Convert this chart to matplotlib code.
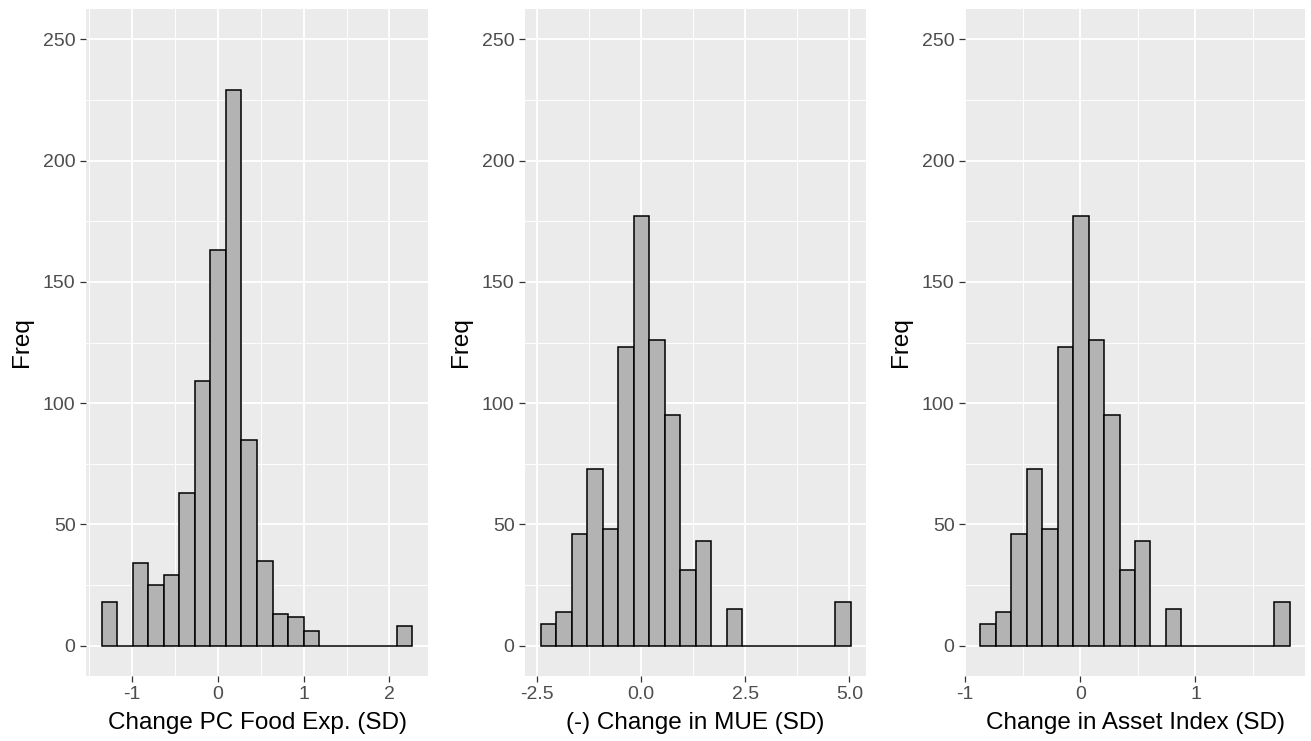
import matplotlib.pyplot as plt
import numpy as np

plt.rcParams['font.family'] = ['Liberation Sans', 'DejaVu Sans']

# histogram counts per bin (20 bins each)
food_counts = [18, 0, 34, 25, 29, 63, 109, 163, 229, 85, 35, 13, 12, 6, 0, 0, 0, 0, 0, 8]
mue_counts = [9, 14, 46, 73, 48, 123, 177, 126, 95, 31, 43, 0, 15, 0, 0, 0, 0, 0, 0, 18]
asset_counts = [9, 14, 46, 73, 48, 123, 177, 126, 95, 31, 43, 0, 15, 0, 0, 0, 0, 0, 0, 18]

# first bin edge and bin width for each variable
food_bins = (-1.354, 0.1811)
mue_bins = (-2.42, 0.3723)
asset_bins = (-0.867, 0.1342)

food_ticks = [-1, 0, 1, 2]
food_ticklabels = ['-1', '0', '1', '2']
mue_ticks = [-2.5, 0.0, 2.5, 5.0]
mue_ticklabels = ['-2.5', '0.0', '2.5', '5.0']
asset_ticks = [-1, 0, 1]
asset_ticklabels = ['-1', '0', '1']

y_ticks = [0, 50, 100, 150, 200, 250]

panels = [
    ('Change PC Food Exp. (SD)', food_counts, food_bins, food_ticks, food_ticklabels),
    ('(-) Change in MUE (SD)', mue_counts, mue_bins, mue_ticks, mue_ticklabels),
    ('Change in Asset Index (SD)', asset_counts, asset_bins, asset_ticks, asset_ticklabels),
]

W, H = 1311, 741
fig = plt.figure(figsize=(W / 100, H / 100), dpi=100)
lefts = [86, 525, 965]
widths = [342, 341, 340]
top, bottom = 9, 676

for (xlabel, counts, (start, bw), xt, xtl), lx, wx in zip(panels, lefts, widths):
    ax = fig.add_axes([lx / W, (H - bottom) / H, wx / W, (bottom - top) / H])
    ax.set_facecolor('#EBEBEB')
    for s in ax.spines.values():
        s.set_visible(False)

    n = len(counts)
    lefts_b = start + bw * np.arange(n)
    ax.bar(lefts_b, counts, width=bw, align='edge', color='#B3B3B3',
           edgecolor='black', linewidth=1.1, zorder=3)

    ax.set_xticks(xt)
    ax.set_xticklabels(xtl)
    ax.set_yticks(y_ticks)
    ax.set_yticklabels([str(v) for v in y_ticks])

    # minor gridlines halfway between the major ticks
    step = xt[1] - xt[0]
    ax.set_xticks([v + step / 2 for v in [xt[0] - step] + xt], minor=True)
    ax.set_yticks([v + 25 for v in [-50] + y_ticks], minor=True)

    # ggplot-style 5% expansion around the data range
    lo, hi = start, start + bw * n
    pad = 0.05 * (hi - lo)
    ax.set_xlim(lo - pad, hi + pad)
    ax.set_ylim(-12.5, 262.5)

    ax.grid(which='major', color='white', linewidth=1.3, zorder=0)
    ax.grid(which='minor', color='white', linewidth=0.65, zorder=0)
    ax.set_axisbelow(True)

    ax.tick_params(which='major', length=4, width=0.9, color='#333333',
                   labelsize=14, labelcolor='#4D4D4D', pad=3.5)
    ax.tick_params(which='minor', length=0)

    ax.set_xlabel(xlabel, fontsize=17.5, color='black', labelpad=6)
    ax.set_ylabel('Freq', fontsize=17.5, color='black', labelpad=7)

fig.savefig('out.png', dpi=100)
